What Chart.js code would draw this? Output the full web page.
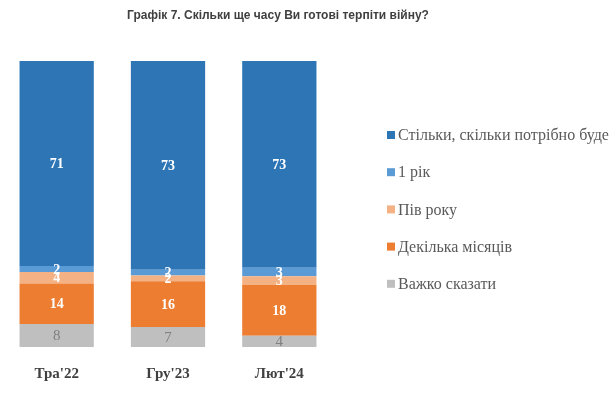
<!DOCTYPE html>
<html>
<head>
<meta charset="utf-8">
<script src="https://cdn.jsdelivr.net/npm/chart.js@4"></script>
<style>
  body { margin: 0; background: #fff; }
  #box { width: 616px; height: 399px; }
</style>
</head>
<body>
<div id="box"><canvas id="grafik"></canvas></div>
<script>
const categories = ["Тра'22", "Гру'23", "Лют'24"];

// значення знизу вгору
const vazhko = [8, 7, 4];
const dekilka = [14, 16, 18];
const pivRoku = [4, 2, 3];
const odynRik = [2, 2, 3];
const stilky = [71, 73, 73];

const seriesNames = ['Важко сказати', 'Декілька місяців', 'Пів року', '1 рік', 'Стільки, скільки потрібно буде'];
const seriesColors = ['#BFBFBF', '#ED7D31', '#F4B183', '#5B9BD5', '#2E75B6'];
const seriesValues = [vazhko, dekilka, pivRoku, odynRik, stilky];

// 100% stacked: normalize each column to its total
const totals = categories.map((c, i) => seriesValues.reduce((s, arr) => s + arr[i], 0));

const datasets = seriesValues.map((vals, k) => ({
  label: seriesNames[k],
  raw: vals,
  data: vals.map((v, i) => v / totals[i] * 100),
  backgroundColor: seriesColors[k],
  borderWidth: 0,
  barPercentage: 0.667,
  categoryPercentage: 1
}));

const decor = {
  id: 'decor',
  afterDatasetsDraw(chart) {
    const ctx = chart.ctx;
    ctx.save();
    // підписи значень
    chart.data.datasets.forEach((ds, k) => {
      const meta = chart.getDatasetMeta(k);
      meta.data.forEach((bar, i) => {
        const y = (bar.y + bar.base) / 2;
        if (k === 0) {
          ctx.font = '15px "Liberation Serif"';
          ctx.fillStyle = '#7F7F7F';
        } else {
          ctx.font = 'bold 14px "Liberation Serif"';
          ctx.fillStyle = '#FFFFFF';
        }
        ctx.textAlign = 'center';
        ctx.textBaseline = 'middle';
        ctx.fillText(ds.raw[i], bar.x, y + 1);
      });
    });
    // заголовок
    ctx.font = 'bold 12px "Liberation Sans"';
    ctx.fillStyle = '#404040';
    ctx.textAlign = 'center';
    ctx.textBaseline = 'middle';
    ctx.fillText('Графік 7. Скільки ще часу Ви готові терпіти війну?', 278, 16);
    // легенда
    const order = chart.data.datasets.slice().reverse();
    order.forEach((ds, j) => {
      const cy = 135 + j * 37.2;
      ctx.fillStyle = ds.backgroundColor;
      ctx.fillRect(387, cy - 4, 8, 8);
      ctx.font = '16px "Liberation Serif"';
      ctx.fillStyle = '#595959';
      ctx.textAlign = 'left';
      ctx.fillText(ds.label, 398, cy + 1);
    });
    ctx.restore();
  }
};

new Chart(document.getElementById('grafik'), {
  type: 'bar',
  data: { labels: categories, datasets: datasets },
  options: {
    responsive: true,
    maintainAspectRatio: false,
    animation: false,
    layout: { padding: { top: 61, left: 1, right: 281, bottom: 6 } },
    plugins: {
      legend: { display: false },
      tooltip: { enabled: false },
      title: { display: false }
    },
    scales: {
      x: {
        stacked: true,
        grid: { display: false },
        border: { display: false },
        ticks: {
          color: '#404040',
          padding: 10,
          font: { family: 'Liberation Serif', size: 15, weight: 'bold' }
        }
      },
      y: {
        stacked: true,
        display: false,
        min: 0,
        max: 100
      }
    }
  },
  plugins: [decor]
});
</script>
</body>
</html>
